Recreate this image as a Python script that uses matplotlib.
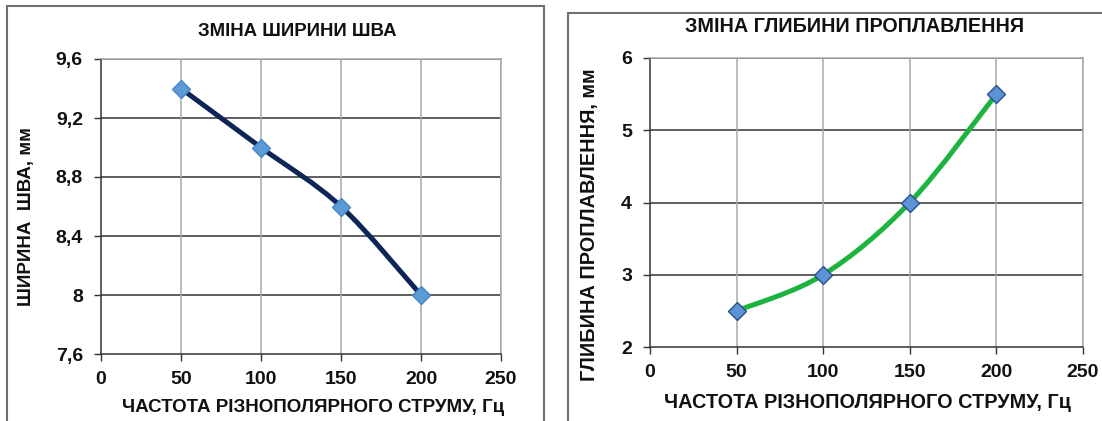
import numpy as np
import matplotlib.pyplot as plt
from matplotlib.path import Path
from matplotlib.patches import PathPatch, Rectangle

plt.rcParams['font.family'] = ['Liberation Sans', 'DejaVu Sans']
plt.rcParams['font.weight'] = 'bold'

# data for both charts
freq = [50, 100, 150, 200]
width_mm = [9.4, 9.0, 8.6, 8.0]
depth_mm = [2.5, 3.0, 4.0, 5.5]

x_ticks = [0, 50, 100, 150, 200, 250]
width_ticks = [7.6, 8.0, 8.4, 8.8, 9.2, 9.6]
width_tick_labels = ['7,6', '8', '8,4', '8,8', '9,2', '9,6']
depth_ticks = [2, 3, 4, 5, 6]

xlabel = 'ЧАСТОТА РІЗНОПОЛЯРНОГО СТРУМУ, Гц'

W, H = 1102, 421
fig = plt.figure(figsize=(W / 100, H / 100), dpi=100)


def px_box(x0, y0, x1, y1):
    # pixel box (top-left origin) -> figure fraction rect
    return [x0 / W, 1 - y1 / H, (x1 - x0) / W, (y1 - y0) / H]


def smooth_path(xs, ys):
    # bezier segments with control points from neighbours (spreadsheet-style smoothing)
    pts = np.column_stack([xs, ys]).astype(float)
    ext = np.vstack([pts[0], pts, pts[-1]])
    verts = [pts[0]]
    codes = [Path.MOVETO]
    for i in range(1, len(ext) - 2):
        p0, p1, p2, p3 = ext[i - 1], ext[i], ext[i + 1], ext[i + 2]
        verts += [p1 + (p2 - p0) / 6, p2 - (p3 - p1) / 6, p2]
        codes += [Path.CURVE4] * 3
    return Path(verts, codes)


def style_axes(ax, xt, yt, ylabels, ylim):
    ax.set_xlim(0, 250)
    ax.set_ylim(*ylim)
    ax.set_xticks(xt)
    ax.set_yticks(yt)
    ax.set_yticklabels(ylabels)
    ax.tick_params(direction='out', length=5, width=1, labelsize=14,
                   colors='#333333', labelcolor='#111111')
    ax.tick_params(axis='y', pad=8)
    ax.tick_params(axis='x', pad=7)
    for t in ax.get_xticklabels() + ax.get_yticklabels():
        t.set_fontweight('bold')
    for yv in yt[1:]:
        ax.axhline(yv, color='#333333', lw=1.1, zorder=1)
    for xv in xt[1:]:
        ax.axvline(xv, color='#a8a8a8', lw=1.1, zorder=1)
    ax.spines['left'].set_color('#333333')
    ax.spines['bottom'].set_color('#333333')
    ax.spines['top'].set_color('#a8a8a8')
    ax.spines['right'].set_color('#a8a8a8')
    for s in ax.spines.values():
        s.set_linewidth(1.1)


# outer frames of the two chart blocks
fig.patches.append(Rectangle((7 / W, -0.1), (544 - 7) / W, 1.1 - 6 / H,
                             transform=fig.transFigure, fill=False,
                             edgecolor='#6e6e6e', lw=1.5))
fig.patches.append(Rectangle((568 / W, -0.1), 0.6, 1.1 - 13 / H,
                             transform=fig.transFigure, fill=False,
                             edgecolor='#6e6e6e', lw=1.5))

# left: weld width
ax1 = fig.add_axes(px_box(101, 59, 501, 354))
style_axes(ax1, x_ticks, width_ticks, width_tick_labels, (7.6, 9.6))
ax1.add_patch(PathPatch(smooth_path(freq, width_mm), fill=False,
                        edgecolor='#0e2557', lw=3.6, zorder=3, capstyle='round'))
ax1.plot(freq, width_mm, ls='none', marker='D', ms=9,
         mfc='#5b9bd5', mec='#4a86c5', mew=1, zorder=4)
fig.text(297 / W, 1 - 31 / H, 'ЗМІНА ШИРИНИ ШВА', ha='center', va='center',
         fontsize=13.4, fontweight='bold', color='#111111')
fig.text(26 / W, 1 - 217 / H, 'ШИРИНА  ШВА, мм', ha='center', va='center',
         rotation=90, fontsize=13.5, fontweight='bold', color='#111111')
fig.text(313 / W, 1 - 408 / H, xlabel, ha='center', va='center',
         fontsize=13.5, fontweight='bold', color='#111111')

# right: penetration depth
ax2 = fig.add_axes(px_box(650, 58, 1083, 347))
style_axes(ax2, x_ticks, depth_ticks, [str(v) for v in depth_ticks], (2, 6))
ax2.add_patch(PathPatch(smooth_path(freq, depth_mm), fill=False,
                        edgecolor='#1db33f', lw=3.6, zorder=3, capstyle='round'))
ax2.plot(freq, depth_mm, ls='none', marker='D', ms=9.5,
         mfc='#5b93d6', mec='#2a4f8f', mew=1, zorder=4)
fig.text(855 / W, 1 - 27 / H, 'ЗМІНА ГЛИБИНИ ПРОПЛАВЛЕННЯ', ha='center', va='center',
         fontsize=14.2, fontweight='bold', color='#111111')
fig.text(590 / W, 1 - 225 / H, 'ГЛИБИНА ПРОПЛАВЛЕННЯ, мм', ha='center', va='center',
         rotation=90, fontsize=14.3, fontweight='bold', color='#111111')
fig.text(867 / W, 1 - 403 / H, xlabel, ha='center', va='center',
         fontsize=14.3, fontweight='bold', color='#111111')

fig.savefig('out.png', dpi=100)
